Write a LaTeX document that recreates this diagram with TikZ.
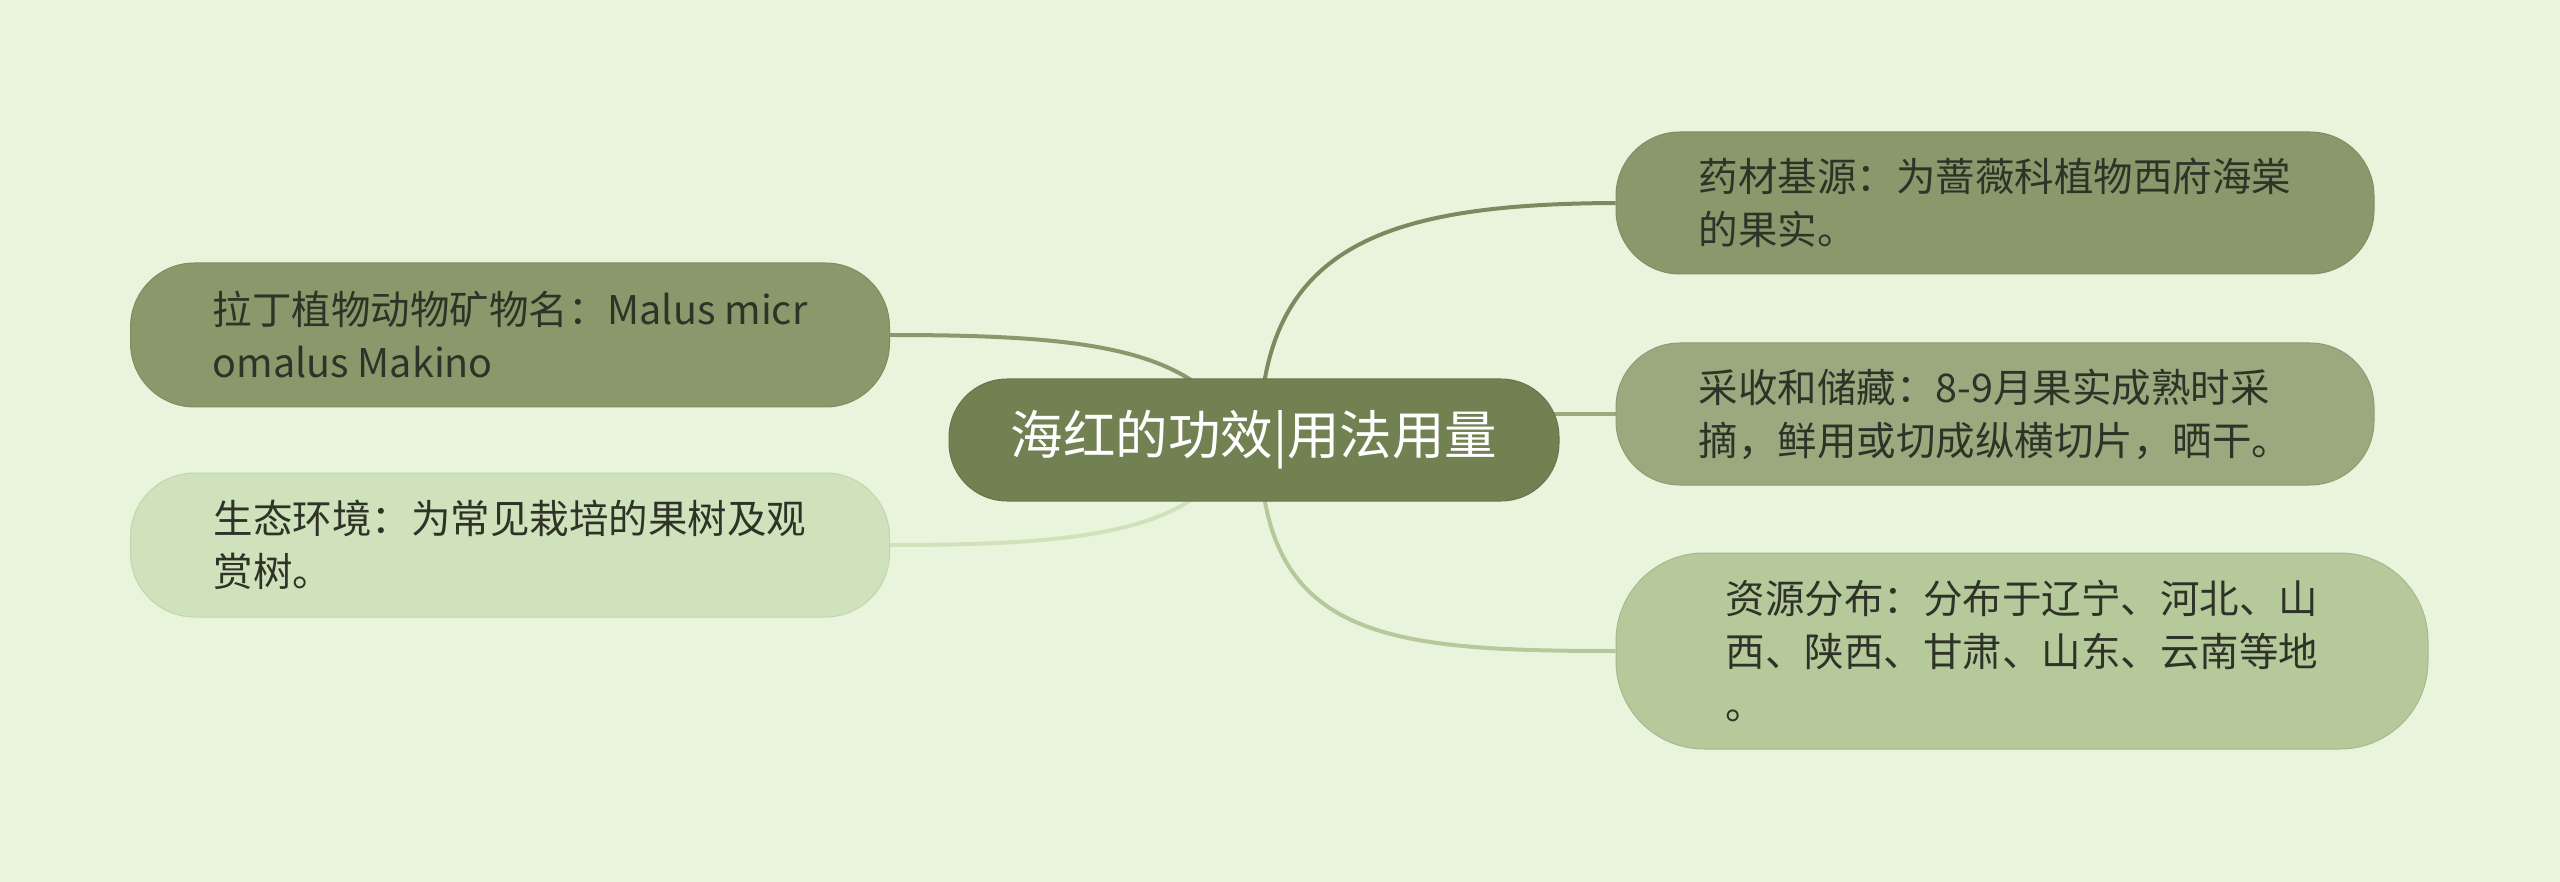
\documentclass[tikz,border=0pt]{standalone}
\usepackage{fontspec}
\setmainfont{Noto Sans CJK SC}
\usetikzlibrary{calc}
\definecolor{bg}{HTML}{E8F5DC}
\definecolor{cctr}{HTML}{728152}
\definecolor{cone}{HTML}{8A996B}
\definecolor{ctwo}{HTML}{9AAA7E}
\definecolor{cthree}{HTML}{B5C99B}
\definecolor{cltwo}{HTML}{CFE2BB}
\definecolor{txt}{HTML}{2E3328}
\pgfdeclarelayer{back}
\pgfsetlayers{back,main}
\tikzset{
  box/.style={rounded corners=64pt, minimum width=758pt, minimum height=142pt,
    align=left, inner sep=0pt, text=txt, font=\fontsize{39.5}{53}\selectfont},
  link/.style={line width=4pt}
}
\begin{document}
\begin{tikzpicture}[x=1pt,y=-1pt]
\useasboundingbox (0,0) rectangle (2560,882);
\node[box, fill=cctr, draw=cctr!90!black, line width=1pt, minimum width=610pt, minimum height=122pt, rounded corners=58pt,
  text=white, font=\fontsize{52.5}{58}\selectfont] (ctr) at (1254,440) {海红的功效|用法用量};
\node[box, fill=cone, draw=cone!92!black, line width=1pt] (r1) at (1995,203) {药材基源：为蔷薇科植物西府海棠\\的果实。};
\node[box, fill=ctwo, draw=ctwo!92!black, line width=1pt] (r2) at (1995,414) {采收和储藏：8-9月果实成熟时采\\摘，鲜用或切成纵横切片，晒干。};
\node[box, fill=cthree, draw=cthree!92!black, line width=1pt, minimum width=812pt, minimum height=196pt, rounded corners=88pt] (r3) at (2022,651) {资源分布：分布于辽宁、河北、山\\西、陕西、甘肃、山东、云南等地\\。};
\node[box, fill=cone, draw=cone!92!black, line width=1pt, minimum width=759pt, minimum height=144pt] (l1) at (510,335) {拉丁植物动物矿物名：Malus micr\\omalus Makino};
\node[box, fill=cltwo, draw=cltwo!94!black, line width=1pt, minimum width=759pt, minimum height=144pt] (l2) at (510,545) {生态环境：为常见栽培的果树及观\\赏树。};
\begin{pgfonlayer}{back}
\fill[bg] (0,0) rectangle (2560,882);
\draw[link, draw=cone!90!black] ($(ctr.north)+(8,20)$) .. controls (1280,240) and (1400,204) .. (r1.west);
\draw[link, draw=ctwo] ($(r2.west -| ctr.east)+(-30,0)$) -- (r2.west);
\draw[link, draw=cthree] ($(ctr.south)+(8,-20)$) .. controls (1280,640) and (1400,651) .. (r3.west);
\draw[link, draw=cone] (l1.east) .. controls (1060,335) and (1160,345) .. ($(ctr.north)+(-40,20)$);
\draw[link, draw=cltwo] (l2.east) .. controls (1060,545) and (1160,535) .. ($(ctr.south)+(-40,-20)$);
\end{pgfonlayer}
\end{tikzpicture}
\end{document}
